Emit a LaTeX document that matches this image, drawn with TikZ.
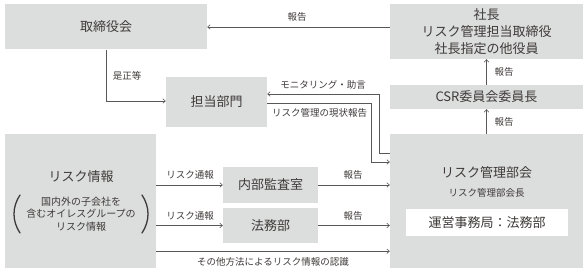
\documentclass[tikz,border=0pt]{standalone}
\usepackage{fontspec}
\setmainfont{Noto Sans CJK JP}
\usetikzlibrary{arrows.meta,calc}
\definecolor{boxgray}{HTML}{DCDDDD}
\definecolor{linegray}{HTML}{595757}
\definecolor{txt}{HTML}{3E3A39}
\begin{document}
\begin{tikzpicture}[x=1pt,y=-1pt,
  box/.style={fill=boxgray,draw=none,inner sep=0pt,text=txt,align=center,font=\fontsize{13pt}{17pt}\selectfont},
  lbl/.style={inner sep=0pt,text=txt,font=\fontsize{9.5pt}{12pt}\selectfont},
  arr/.style={draw=linegray,line width=0.6pt,-{Straight Barb[length=2.5pt,width=4.5pt]}},
  paren/.style={draw=txt,line width=1.3pt,line cap=round}]
\useasboundingbox (0,0) rectangle (588,275);
% boxes
\node[box,minimum width=202pt,minimum height=45pt] (tori) at (106,27) {取締役会};
\node[box,minimum width=193pt,minimum height=55pt] (shacho) at (486.5,31.5) {社長\\リスク管理担当取締役\\社長指定の他役員};
\node[box,minimum width=193pt,minimum height=24pt] (csr) at (486.5,97) {CSR委員会委員長};
\node[box,minimum width=101pt,minimum height=50pt] (tanto) at (216.5,102) {担当部門};
\node[box,minimum width=151pt,minimum height=134pt] (info) at (80.5,201) {};
\node[box,minimum width=95pt,minimum height=36pt] (naibu) at (270.5,185) {内部監査室};
\node[box,minimum width=95pt,minimum height=35pt] (homu) at (270.5,225.5) {法務部};
\node[box,minimum width=193pt,minimum height=134pt] (rk) at (486.5,201) {};
% texts inside large boxes
\node[lbl,font=\fontsize{13pt}{17pt}\selectfont] (infoT) at (81,177) {リスク情報};
\node[lbl,align=center,font=\fontsize{10pt}{12.5pt}\selectfont] (infoS) at (81,214) {国内外の子会社を\\含むオイレスグループの\\リスク情報};
\draw[paren] (20,195) .. controls (12,207) and (12,221) .. (20,233);
\draw[paren] (142,195) .. controls (150,207) and (150,221) .. (142,233);
\node[lbl,font=\fontsize{13pt}{17pt}\selectfont] (rkT) at (486.5,173) {リスク管理部会};
\node[lbl,font=\fontsize{9.5pt}{12pt}\selectfont] (rkS) at (486.5,193) {リスク管理部会長};
\node[box,fill=white,minimum width=162pt,minimum height=27pt] (jimu) at (487,222.5) {運営事務局：法務部};
% connectors
\draw[arr] (shacho.west |- tori.east) -- (tori.east);
\draw[arr] (tori.south) |- ([yshift=1pt]tanto.west);
\coordinate (bendM) at (379,94);
\coordinate (bendR) at (371,162);
\draw[arr] ($(rk.north west)+(0,20)$) -| (bendM) -- (bendM -| tanto.east);
\draw[arr] ([yshift=-1pt]tanto.east) -| (bendR) -- (bendR -| rk.west);
\draw[arr] (csr.north) -- (shacho.south);
\draw[arr] (rk.north) -- (csr.south);
\draw[arr] (info.east |- naibu.west) -- (naibu.west);
\draw[arr] (info.east |- homu.west) -- (homu.west);
\draw[arr] (naibu.east) -- (naibu.east -| rk.west);
\draw[arr] (homu.east) -- (homu.east -| rk.west);
\draw[arr] ([yshift=17pt]info.south east) -- ([yshift=17pt]rk.south west);
% labels
\node[lbl] (l1) at (297,17) {報告};
\node[lbl] (l2) at (127,76) {是正等};
\node[lbl] (l3) at (323,85) {モニタリング・助言};
\node[lbl] (l4) at (319.5,113) {リスク管理の現状報告};
\node[lbl] (l5) at (504,72) {報告};
\node[lbl] (l6) at (504,122) {報告};
\node[lbl] (l7) at (190,175) {リスク通報};
\node[lbl] (l8) at (190,215.5) {リスク通報};
\node[lbl] (l9) at (353,175) {報告};
\node[lbl] (l10) at (353,215.5) {報告};
\node[lbl] (l11) at (273,262) {その他方法によるリスク情報の認識};
\end{tikzpicture}
\end{document}
